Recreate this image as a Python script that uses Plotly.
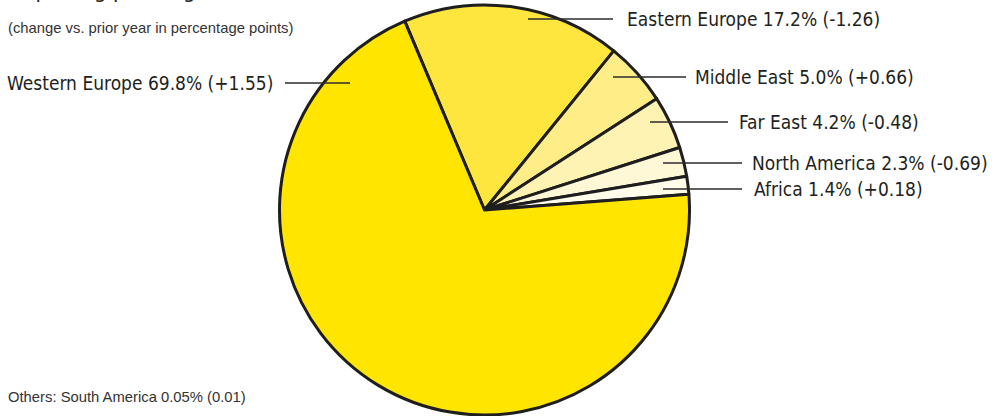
import plotly.graph_objects as go

# Share of departing passengers by region (percent) and change vs. prior year (pp)
regions = ["Eastern Europe", "Middle East", "Far East", "North America", "Africa", "Western Europe"]
shares = [17.2, 5.0, 4.2, 2.3, 1.4, 69.8]
changes = ["-1.26", "+0.66", "-0.48", "-0.69", "+0.18", "+1.55"]
colors = ["#FFE63F", "#FFEE88", "#FFF3B3", "#FFF8D6", "#FFFCEA", "#FFE500"]

other_region = "South America"
other_share = "0.05%"
other_change = "0.01"

W, H = 997, 416

# Pie placement in pixels
cx, cy, R = 484.5, 210.0, 205.0

# Label layout (pixels): leader line y, leader start x, leader end x, text x, text anchor
label_y = [19, 77, 122, 163, 189, 83]
line_x0 = [528, 613, 650, 663, 663, 285]
line_x1 = [613, 686, 728, 742, 742, 350]
text_x = [625, 693, 737, 750, 752, 275]
text_anchor = ["left", "left", "left", "left", "left", "right"]


def px(x):
    return x / W


def py(y):
    return 1 - y / H


fig = go.Figure(
    go.Pie(
        labels=regions,
        values=shares,
        sort=False,
        direction="clockwise",
        rotation=-22.9,
        marker=dict(colors=colors, line=dict(color="#1e1e1e", width=3)),
        textinfo="none",
        hoverinfo="label+percent",
        showlegend=False,
        domain=dict(
            x=[px(cx - R), px(cx + R)],
            y=[py(cy + R), py(cy - R)],
        ),
    )
)

label_font = dict(family="DejaVu Sans Condensed, DejaVu Sans, sans-serif", size=19, color="#231f20")
small_font = dict(family="Liberation Sans, Arial, sans-serif", size=14.8, color="#333333")

shapes = []
annotations = []
for name, share, chg, y, x0, x1, tx, anc in zip(
    regions, shares, changes, label_y, line_x0, line_x1, text_x, text_anchor
):
    shapes.append(
        dict(
            type="line", xref="paper", yref="paper",
            x0=px(x0), x1=px(x1), y0=py(y), y1=py(y),
            line=dict(color="#2b2b2b", width=1.5),
        )
    )
    annotations.append(
        dict(
            text=f"{name} {share:.1f}% ({chg})",
            xref="paper", yref="paper",
            x=px(tx), y=py(y),
            xanchor=anc, yanchor="middle",
            showarrow=False, font=label_font,
        )
    )

# Headline (runs off the top edge) and notes
annotations.append(
    dict(
        text="Departing passengers",
        xref="paper", yref="paper", x=px(6), y=py(5),
        xanchor="left", yanchor="bottom", showarrow=False,
        font=dict(family="DejaVu Sans Condensed, DejaVu Sans, sans-serif", size=22, color="#231f20"),
    )
)
annotations.append(
    dict(
        text="(change vs. prior year in percentage points)",
        xref="paper", yref="paper", x=px(6), y=py(28),
        xanchor="left", yanchor="middle", showarrow=False, font=small_font,
    )
)
annotations.append(
    dict(
        text=f"Others: {other_region} {other_share} ({other_change})",
        xref="paper", yref="paper", x=px(6), y=py(397),
        xanchor="left", yanchor="middle", showarrow=False, font=small_font,
    )
)

fig.update_layout(
    width=W,
    height=H,
    margin=dict(l=0, r=0, t=0, b=0),
    paper_bgcolor="white",
    plot_bgcolor="white",
    shapes=shapes,
    annotations=annotations,
)

fig.write_html("out.html")
